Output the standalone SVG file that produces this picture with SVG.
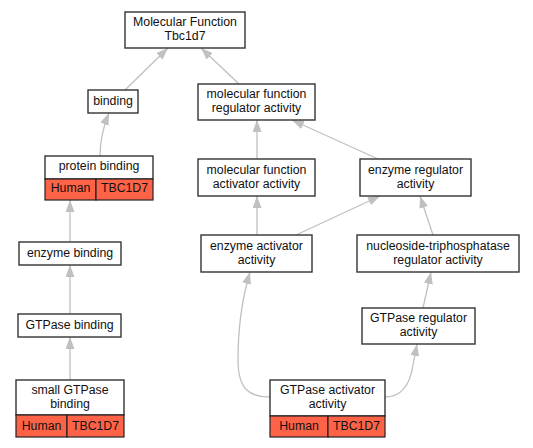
<svg xmlns="http://www.w3.org/2000/svg" width="533" height="448" viewBox="0 0 533 448">
<style>
.n{fill:#fff;stroke:#333;stroke-width:1.4}
.h{fill:#ff6347;stroke:#222;stroke-width:1.2}
text{font-family:"Liberation Sans",Arial,sans-serif;font-size:12.3px;fill:#111;text-anchor:middle}
.e{fill:none;stroke:#c0c0c0;stroke-width:1.3;marker-end:url(#a)}
</style>
<defs>
<marker id="a" viewBox="0 0 12 9" refX="12" refY="4.5" markerWidth="12" markerHeight="9" markerUnits="userSpaceOnUse" orient="auto">
<path d="M0,0 L12,4.5 L0,9 Z" fill="#c0c0c0"/>
</marker>
</defs>
<g id="edges">
<path class="e" d="M125,90 L168,48"/>
<path class="e" d="M239,84 L201,48"/>
<path class="e" d="M100,156 C100,140 104,125 109,113"/>
<path class="e" d="M70,242 L70,200"/>
<path class="e" d="M70,314 L70,265"/>
<path class="e" d="M70,380 L70,337"/>
<path class="e" d="M257,159 L257,120"/>
<path class="e" d="M378,159 L292,120"/>
<path class="e" d="M257,235 L257,196"/>
<path class="e" d="M296,235 L380,196"/>
<path class="e" d="M433,235 L420,196"/>
<path class="e" d="M423,308 L431,272"/>
<path class="e" d="M270,397 C250,397 238,390 238,360 C238,320 244,292 250,272"/>
<path class="e" d="M385,397 C402,397 410,385 413,365 L417,344"/>
</g>
<g id="mf">
<rect class="n" x="125" y="12" width="120" height="36"/>
<text x="185" y="25.5">Molecular Function</text>
<text x="185" y="39.5">Tbc1d7</text>
</g>
<g id="binding">
<rect class="n" x="88" y="90" width="50" height="23"/>
<text x="113" y="105">binding</text>
</g>
<g id="mfra">
<rect class="n" x="198" y="84" width="117" height="36"/>
<text x="256.5" y="97.5">molecular function</text>
<text x="256.5" y="111.5">regulator activity</text>
</g>
<g id="protein-binding">
<rect class="n" x="45" y="156" width="108" height="23"/>
<text x="99" y="170">protein binding</text>
<rect class="h" x="45" y="179" width="51" height="21"/>
<rect class="h" x="96" y="179" width="57" height="21"/>
<text x="70.5" y="192">Human</text>
<text x="124.5" y="192">TBC1D7</text>
</g>
<g id="mfaa">
<rect class="n" x="198" y="159" width="117" height="37"/>
<text x="256.5" y="173.5">molecular function</text>
<text x="256.5" y="187.5">activator activity</text>
</g>
<g id="era">
<rect class="n" x="360" y="159" width="111" height="37"/>
<text x="415.5" y="173.5">enzyme regulator</text>
<text x="415.5" y="187.5">activity</text>
</g>
<g id="enzyme-binding">
<rect class="n" x="19" y="242" width="102" height="23"/>
<text x="70" y="257">enzyme binding</text>
</g>
<g id="eaa">
<rect class="n" x="201" y="235" width="111" height="37"/>
<text x="256.5" y="249.5">enzyme activator</text>
<text x="256.5" y="263.5">activity</text>
</g>
<g id="ntp">
<rect class="n" x="357" y="235" width="162" height="37"/>
<text x="438" y="249.5">nucleoside-triphosphatase</text>
<text x="438" y="263.5">regulator activity</text>
</g>
<g id="gtpase-binding">
<rect class="n" x="18" y="314" width="103" height="23"/>
<text x="69.5" y="329">GTPase binding</text>
</g>
<g id="gra">
<rect class="n" x="362" y="308" width="113" height="36"/>
<text x="418.5" y="321.5">GTPase regulator</text>
<text x="418.5" y="335.5">activity</text>
</g>
<g id="small-gtpase-binding">
<rect class="n" x="16" y="380" width="108" height="35"/>
<text x="70" y="393.5">small GTPase</text>
<text x="70" y="407.5">binding</text>
<rect class="h" x="16" y="415" width="51" height="22"/>
<rect class="h" x="67" y="415" width="57" height="22"/>
<text x="41.5" y="429.5">Human</text>
<text x="95.5" y="429.5">TBC1D7</text>
</g>
<g id="gaa">
<rect class="n" x="270" y="380" width="115" height="36"/>
<text x="327.5" y="393.5">GTPase activator</text>
<text x="327.5" y="407.5">activity</text>
<rect class="h" x="270" y="416" width="58" height="21"/>
<rect class="h" x="328" y="416" width="57" height="21"/>
<text x="299" y="430">Human</text>
<text x="356.5" y="430">TBC1D7</text>
</g>
</svg>
